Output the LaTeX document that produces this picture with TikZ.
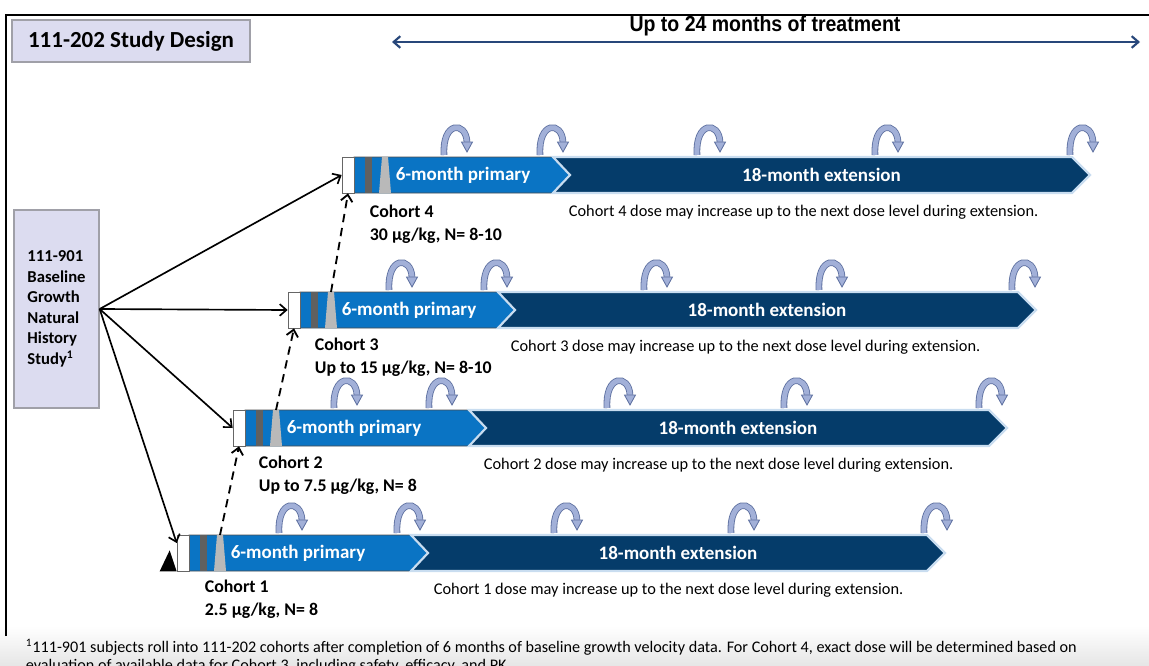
\documentclass[tikz,border=0pt]{standalone}
\usepackage{fontspec}
\setmainfont{Carlito}
\newfontfamily\narrowfont[FakeStretch=0.9]{Liberation Sans}
\usetikzlibrary{arrows.meta}

\definecolor{primblue}{HTML}{0A74C4}
\definecolor{extnavy}{HTML}{053C6A}
\definecolor{glow}{HTML}{C9DDF0}
\definecolor{boxfill}{HTML}{DCDCF0}
\definecolor{boxline}{HTML}{A0A0A8}
\definecolor{arcfill}{HTML}{A2B0D8}
\definecolor{arcline}{HTML}{5E70A0}
\definecolor{spanblue}{HTML}{28477A}

\tikzset{
  uparc/.pic={
    \draw[arcline, line width=0.5pt, double=arcfill, double distance=3pt]
      (4,-2) .. controls (2,-36) and (26,-36) .. (27,-15);
    \filldraw[fill=arcfill, draw=arcline, line width=0.5pt]
      (21.5,-15) -- (32.5,-15) -- (27,-5) -- cycle;
  },
  titlebox/.style={draw=boxline, line width=1.5pt, fill=boxfill, minimum width=142.8pt,
    minimum height=25.2pt, font=\bfseries\fontsize{13.8}{16}\selectfont},
  basebox/.style={draw=boxline, line width=0.8pt, fill=boxfill, minimum width=51pt,
    minimum height=118.8pt, align=left, font=\bfseries\fontsize{10}{12.3}\selectfont},
  whitebox/.style={draw=gray!80!black, line width=0.4pt, fill=white, minimum width=7.2pt,
    minimum height=21.6pt, inner sep=0pt},
  barlabel/.style={text=white, font=\bfseries\fontsize{11.4}{13}\selectfont},
  cohortlabel/.style={anchor=north west, align=left, font=\bfseries\fontsize{10.7}{13.8}\selectfont},
  dosenote/.style={anchor=west, font=\fontsize{9.8}{11}\selectfont},
  feed/.style={->, line width=1pt},
  rollover/.style={->, line width=1.1pt, dash pattern=on 5pt off 3.5pt}
}

\begin{document}
\begin{tikzpicture}[x=0.6pt, y=-0.6pt, >={Straight Barb[length=4pt,width=7pt]}]
\useasboundingbox (0,0) rectangle (1149,666);
\clip (0,0) rectangle (1149,666);

\shade[top color=white, bottom color=black!10] (0,626) rectangle (1149,666);
\draw[line width=1.2pt] (6,636) -- (6,15) -- (1149,15);

\node[titlebox] (title) at (131,41) {111-202 Study Design};

\coordinate (spanL) at (392,42);
\coordinate (spanR) at (1140,42);
\draw[<->, spanblue, line width=1.3pt] (spanL) -- (spanR);
\node[font=\narrowfont\bfseries\fontsize{13}{15}\selectfont] (span) at (765,26) {Up to 24 months of treatment};

\node[basebox] (base) at (56.5,309) {111-901\\Baseline\\Growth\\Natural\\History\\Study\textsuperscript{1}};

% cohort bars
\foreach \n/\L/\T/\P/\E/\D in {4/342/157/553/1090/563, 3/288/292/498/1036/505,
    2/233/410/469/1007/478, 1/177/535/411/945/428}{
  \fill[primblue, draw=gray!60!black, line width=0.4pt] (\L+12,\T) -- (\P,\T) -- (\P+17,\T+18)
    -- (\P,\T+36) -- (\L+12,\T+36) -- cycle;
  \filldraw[fill=extnavy, draw=glow, line width=1.3pt] (\P,\T) -- (\E-18,\T) -- (\E,\T+18)
    -- (\E-18,\T+36) -- (\P,\T+36) -- (\P+17,\T+18) -- cycle;
  \fill[gray!75!black] (\L+23,\T) rectangle (\L+30,\T+36);
  \fill[gray!55] (\L+40,\T) -- (\L+46,\T) -- (\L+49,\T+36) -- (\L+37,\T+36) -- cycle;
  \coordinate (g\n) at (\L+43,\T);
  \node[whitebox] (w\n) at (\L+6,\T+18) {};
  \node[barlabel] (p\n) at (\L+121,\T+18) {6-month primary};
  \node[barlabel] (x\n) at ({(\P+\E)/2},\T+18) {18-month extension};
  \node[dosenote] (d\n) at (\D,\T+55) {Cohort \n\ dose may increase up to the next dose level during extension.};
}

\foreach \x in {440,536,693,871,1066} \pic at (\x,157) {uparc};
\foreach \x in {385,480,640,815,1008} \pic at (\x,292) {uparc};
\foreach \x in {330,425,603,780,975} \pic at (\x,410) {uparc};
\foreach \x in {275,393,550,727,920} \pic at (\x,535) {uparc};

\node[cohortlabel] (c4) at (364,199) {Cohort 4\\30 µg/kg, N= 8-10};
\node[cohortlabel] (c3) at (309,332) {Cohort 3\\Up to 15 µg/kg, N= 8-10};
\node[cohortlabel] (c2) at (253,450) {Cohort 2\\Up to 7.5 µg/kg, N= 8};
\node[cohortlabel] (c1) at (199,574) {Cohort 1\\2.5 µg/kg, N= 8};

\draw[feed] (base.east) -- (w4.west);
\draw[feed] (base.east) -- (w3.west);
\draw[feed] (base.east) -- (w2.west);
\draw[feed] (base.east) -- ([yshift=6pt]w1.west);
\fill (w1.south west) -- ++(-17,0) -- ++(10,-21) -- cycle;

\draw[rollover] (g1) -- (w2.south);
\draw[rollover] (g2) -- (w3.south);
\draw[rollover] (g3) -- (w4.south);

\node[anchor=north west, align=left, font=\fontsize{9.7}{10.8}\selectfont] (foot) at (20,633)
  {\textsuperscript{1}111-901 subjects roll into 111-202 cohorts after completion of 6 months of baseline growth velocity data. For Cohort 4, exact dose will be determined based on\\
   evaluation of available data for Cohort 3, including safety, efficacy, and PK.};
\end{tikzpicture}
\end{document}
